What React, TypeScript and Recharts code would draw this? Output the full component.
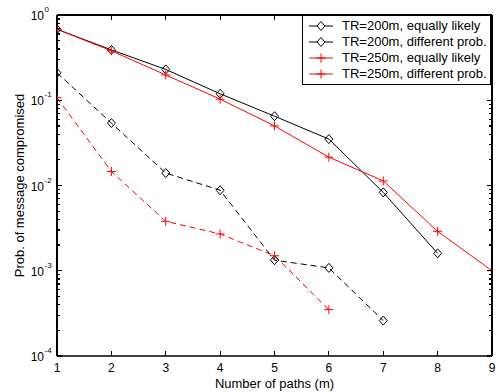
import React from 'react';
import { LineChart, Line, XAxis, YAxis, Legend } from 'recharts';

const xValues = [1, 2, 3, 4, 5, 6, 7, 8, 9];
const tr200Equal = [0.68, 0.39, 0.23, 0.119, 0.065, 0.035, 0.0083, 0.0016, null];
const tr200Diff = [0.21, 0.054, 0.014, 0.0088, 0.00133, 0.00108, 0.00026, null, null];
const tr250Equal = [0.68, 0.38, 0.198, 0.103, 0.05, 0.0215, 0.0113, 0.0029, 0.001];
const tr250Diff = [0.107, 0.0146, 0.0038, 0.0027, 0.0015, 0.00035, null, null, null];

const seriesNames = [
  'TR=200m, equally likely',
  'TR=200m, different prob.',
  'TR=250m, equally likely',
  'TR=250m, different prob.',
];
const seriesKeys = ['a', 'b', 'c', 'd'];
const seriesColors = ['#000000', '#000000', '#ff0000', '#ff0000'];
const seriesMarkers = ['diamond', 'diamond', 'plus', 'plus'];
const seriesDash = [undefined, '6 4', undefined, '6 4'];

const majorYTicks = [1e-4, 1e-3, 1e-2, 1e-1, 1];
const minorMultipliers = [2, 3, 4, 5, 6, 7, 8, 9];
const xTicks = [1, 2, 3, 4, 5, 6, 7, 8, 9];
const xMax = 9;
const yMax = 1;

const yTicks: number[] = [];
majorYTicks.forEach((m, i) => {
  yTicks.push(m);
  if (i < majorYTicks.length - 1) minorMultipliers.forEach((k) => yTicks.push(m * k));
});

const data = xValues.map((x, i) => ({
  x,
  a: tr200Equal[i],
  b: tr200Diff[i],
  c: tr250Equal[i],
  d: tr250Diff[i],
}));

const FONT = 'Arial, "Liberation Sans", Helvetica, sans-serif';

const CHART_W = 500;
const CHART_H = 392;
const MARGIN = { top: 15, right: 8, bottom: 0, left: 0 };
const Y_AXIS_W = 57;
const X_AXIS_H = 36;
const PLOT_W = CHART_W - MARGIN.left - MARGIN.right - Y_AXIS_W;
const PLOT_H = CHART_H - MARGIN.top - MARGIN.bottom - X_AXIS_H;

const isMajor = (v: number) => Math.abs(Math.log10(v) - Math.round(Math.log10(v))) < 1e-6;

const TICK_STYLE = { stroke: '#000', strokeWidth: 1.2, shapeRendering: 'crispEdges' as const };
const FRAME_STYLE = { stroke: '#000', strokeWidth: 1.3, shapeRendering: 'crispEdges' as const, fill: 'none' };

const LeftTick = (props: any) => {
  const { x, y, payload } = props;
  const v = payload.value;
  const rx = x + PLOT_W;
  if (isMajor(v)) {
    const k = Math.round(Math.log10(v));
    return (
      <g>
        {v === yMax && <path d={`M${x},${y}H${rx}`} {...FRAME_STYLE} />}
        <path d={`M${x},${y}H${x + 5}`} {...TICK_STYLE} />
        <path d={`M${rx},${y}H${rx - 5}`} {...TICK_STYLE} />
        <text x={x - 13} y={y + 5} textAnchor="end" fontSize={12} fontFamily={FONT} fill="#000">10</text>
        <text x={x - 12.5} y={y - 3} textAnchor="start" fontSize={8} fontFamily={FONT} fill="#000">{String(k)}</text>
      </g>
    );
  }
  return (
    <g>
      <path d={`M${x},${y}H${x + 3}`} {...TICK_STYLE} />
      <path d={`M${rx},${y}H${rx - 3}`} {...TICK_STYLE} />
    </g>
  );
};

const BottomTick = (props: any) => {
  const { x, y, payload } = props;
  const ty = y - PLOT_H;
  return (
    <g>
      {payload.value === xMax && <path d={`M${x},${y}V${ty}`} {...FRAME_STYLE} />}
      <path d={`M${x},${y}V${y - 5}`} {...TICK_STYLE} />
      <path d={`M${x},${ty}V${ty + 5}`} {...TICK_STYLE} />
      <text x={x} y={y + 16} textAnchor="middle" fontSize={12} fontFamily={FONT} fill="#000">{payload.value}</text>
    </g>
  );
};

const markerPath = (type: string, cx: number, cy: number) =>
  type === 'diamond'
    ? `M${cx},${cy - 4.5}L${cx + 4},${cy}L${cx},${cy + 4.5}L${cx - 4},${cy}Z`
    : `M${cx - 4.5},${cy}H${cx + 4.5}M${cx},${cy - 4.5}V${cy + 4.5}`;

const makeDot = (type: string, color: string, key: string) => (props: any) => {
  const { cx, cy, index } = props;
  if (cx == null || cy == null || props.value == null) return <g key={`${key}-${index}`} />;
  return (
    <path key={`${key}-${index}`} d={markerPath(type, cx, cy)} fill="none" stroke={color} strokeWidth={1} />
  );
};

const LegendContent = () => (
  <div
    style={{
      width: 187,
      height: 68,
      border: '1px solid #000',
      background: '#fff',
      fontFamily: FONT,
      fontSize: 13,
      position: 'relative',
    }}
  >
    {seriesNames.map((name, i) => {
      const cy = 10 + i * 16;
      return (
        <div key={name} style={{ position: 'absolute', left: 0, top: cy - 8, height: 16, width: 187 }}>
          <svg width={36} height={16} style={{ position: 'absolute', left: 0, top: 0 }}>
            <line x1={6} x2={30} y1={8} y2={8} stroke={seriesColors[i]} strokeWidth={1} />
            <path d={markerPath(seriesMarkers[i], 18, 8)} fill="#fff" stroke={seriesColors[i]} strokeWidth={1} />
          </svg>
          <span style={{ position: 'absolute', left: 39, top: 0, lineHeight: '16px', whiteSpace: 'nowrap', color: '#000' }}>
            {name}
          </span>
        </div>
      );
    })}
  </div>
);

export default function App() {
  return (
    <div style={{ position: 'absolute', left: 0, top: 0, width: CHART_W, height: CHART_H, background: '#fff' }}>
      <LineChart width={CHART_W} height={CHART_H} data={data} margin={MARGIN}>
        <XAxis
          dataKey="x"
          type="number"
          domain={[1, 9]}
          ticks={xTicks}
          allowDataOverflow
          height={X_AXIS_H}
          tickSize={0}
          tickMargin={0}
          tick={<BottomTick />}
          tickLine={false}
          axisLine={{ stroke: '#000', strokeWidth: 1.5 }}
          label={{ value: 'Number of paths (m)', position: 'insideBottom', offset: 4, fontSize: 13, fontFamily: FONT, fill: '#000' }}
        />
        <YAxis
          type="number"
          scale="log"
          domain={[1e-4, 1]}
          ticks={yTicks}
          interval={0}
          allowDataOverflow
          width={Y_AXIS_W}
          tickSize={0}
          tickMargin={0}
          tick={<LeftTick />}
          tickLine={false}
          axisLine={{ stroke: '#000', strokeWidth: 2 }}
          label={{
            value: 'Prob. of message compromised',
            angle: -90,
            position: 'insideLeft',
            offset: 19,
            fontSize: 13,
            fontFamily: FONT,
            fill: '#000',
            style: { textAnchor: 'middle' },
          }}
        />
        <Legend
          layout="vertical"
          align="center"
          verticalAlign="middle"
          content={<LegendContent />}
          wrapperStyle={{ position: 'absolute', left: 302, top: 15, width: 189, height: 70, margin: 0, padding: 0 }}
        />
        {seriesKeys.map((k, i) => (
          <Line
            key={k}
            dataKey={k}
            name={seriesNames[i]}
            stroke={seriesColors[i]}
            strokeWidth={1}
            strokeDasharray={seriesDash[i]}
            dot={makeDot(seriesMarkers[i], seriesColors[i], k)}
            activeDot={false}
            isAnimationActive={false}
            type="linear"
          />
        ))}
      </LineChart>
    </div>
  );
}
